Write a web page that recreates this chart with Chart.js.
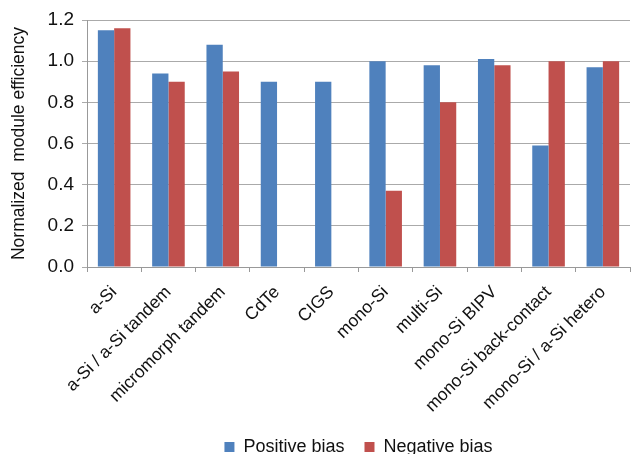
<!DOCTYPE html>
<html>
<head>
<meta charset="utf-8">
<script src="https://cdn.jsdelivr.net/npm/chart.js@4"></script>
<style>
  html, body { margin: 0; padding: 0; background: #fff; }
  #wrap { width: 633px; height: 454px; position: relative; }
</style>
</head>
<body>
<div id="wrap"><canvas id="chart"></canvas></div>
<script>
// ------ Data ------
const categories   = ['a-Si', 'a-Si / a-Si tandem', 'micromorph tandem', 'CdTe', 'CIGS',
                      'mono-Si', 'multi-Si', 'mono-Si BIPV', 'mono-Si back-contact', 'mono-Si / a-Si hetero'];
const positiveBias = [1.15, 0.94, 1.08, 0.90, 0.90, 1.00, 0.98, 1.01, 0.59, 0.97];
const negativeBias = [1.16, 0.90, 0.95, null, null, 0.37, 0.80, 0.98, 1.00, 1.00];
const yTicks       = [0, 0.2, 0.4, 0.6, 0.8, 1.0, 1.2];

const FONT = "'Liberation Sans', Arial, sans-serif";

new Chart(document.getElementById('chart'), {
  type: 'bar',
  data: {
    labels: categories,
    datasets: [
      { label: 'Positive bias', data: positiveBias, backgroundColor: '#4F81BD', borderWidth: 0 },
      { label: 'Negative bias', data: negativeBias, backgroundColor: '#C0504D', borderWidth: 0 }
    ]
  },
  options: {
    responsive: true,
    maintainAspectRatio: false,
    animation: false,
    layout: { padding: { top: 20, right: 3, left: 2, bottom: -12 } },
    datasets: { bar: { categoryPercentage: 0.6, barPercentage: 1.0 } },
    scales: {
      x: {
        afterFit: axis => { axis.height = 151; },
        grid: { display: true, drawOnChartArea: false, color: '#999', tickLength: 5, offset: true },
        border: { color: '#999' },
        ticks: { color: '#111', font: { family: FONT, size: 17.5 }, minRotation: 45, maxRotation: 45,
                 autoSkip: false, padding: 10, labelOffset: 0 }
      },
      y: {
        min: 0, max: 1.2,
        afterFit: axis => { axis.width = 85; },
        afterBuildTicks: axis => { axis.ticks = yTicks.map(v => ({ value: v })); },
        grid: { color: '#aaa', tickLength: 5 },
        border: { color: '#999' },
        ticks: { color: '#111', font: { family: FONT, size: 19 }, padding: 8, callback: v => v.toFixed(1) },
        title: { display: true, text: 'Normalized  module efficiency', color: '#111',
                 font: { family: FONT, size: 17.5 }, padding: 7 }
      }
    },
    plugins: {
      legend: {
        position: 'bottom',
        fullSize: false,
        labels: { color: '#111', font: { family: FONT, size: 18 }, boxWidth: 10, boxHeight: 10, padding: 20 }
      },
      tooltip: { enabled: false }
    }
  }
});
</script>
</body>
</html>
